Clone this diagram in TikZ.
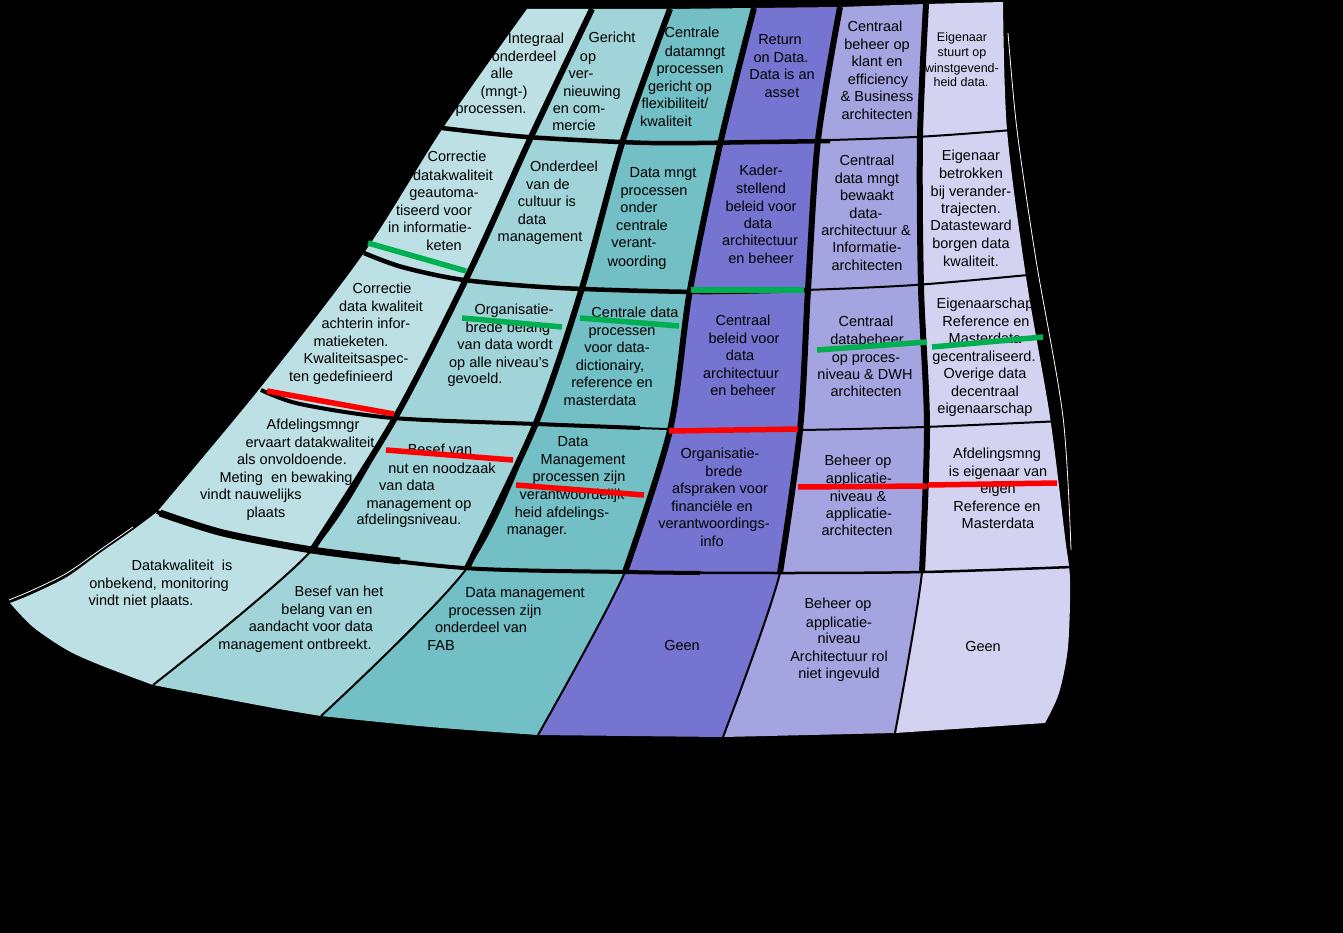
\documentclass[tikz,border=0pt]{standalone}
\usepackage{fontspec}
\setmainfont{Liberation Sans}
\definecolor{cA}{HTML}{BCE0E4}
\definecolor{cB}{HTML}{A0D4D9}
\definecolor{cC}{HTML}{72BFC5}
\definecolor{cD}{HTML}{7575D1}
\definecolor{cE}{HTML}{A4A4E0}
\definecolor{cF}{HTML}{D3D3F1}
\definecolor{hlgreen}{HTML}{00B050}
\definecolor{hlred}{HTML}{FF0000}
\tikzset{
  t/.style={inner sep=0pt, anchor=base, yshift=-5pt, text=black, font=\fontsize{14.5}{17}\selectfont},
  ts/.style={inner sep=0pt, anchor=base, yshift=-4.5pt, text=black, font=\fontsize{12.5}{15}\selectfont},
  divthick/.style={line width=6pt, black},
  divthin/.style={line width=2pt, black},
  rowline/.style={black},
  hlg/.style={line width=5.5pt, hlgreen},
  hlr/.style={line width=5.5pt, hlred}
}
\begin{document}
\begin{tikzpicture}[x=1pt,y=-1pt]
\fill[black] (0,0) rectangle (1343,933);
\useasboundingbox (0,0) rectangle (1343,933);

% column fills
\fill[cA] plot[smooth] coordinates {(527,9) (443,128) (364,253) (261,387) (157,512)}
  -- plot[smooth] coordinates {(157,512) (133,530) (100,553) (67,577) (30,595) (10,603)}
  -- plot[smooth] coordinates {(10,603) (33,627) (67,650) (100,665) (153,685)}
  -- plot[smooth] coordinates {(153,685) (312,550) (395,418) (469,273) (531,137) (592,9)} -- cycle;
\fill[cB] plot[smooth] coordinates {(592,9) (531,137) (469,273) (395,418) (312,550) (153,685)}
  -- plot[smooth] coordinates {(153,685) (268,707) (321,716)}
  -- plot[smooth] coordinates {(321,716) (467,568) (536,423) (582,288) (623,140) (670,9)} -- cycle;
\fill[cC] plot[smooth] coordinates {(670,9) (623,140) (582,288) (536,423) (467,568) (321,716)}
  -- plot[smooth] coordinates {(321,716) (430,727) (538,735)}
  -- plot[smooth] coordinates {(538,735) (625,572) (670,430) (690,290) (721,140) (754,8)} -- cycle;
\fill[cD] plot[smooth] coordinates {(754,8) (721,140) (690,290) (670,430) (625,572) (538,735)}
  -- (723,737)
  -- plot[smooth] coordinates {(723,737) (780,573) (800,430) (808,290) (818,140) (840,7)} -- cycle;
\fill[cE] plot[smooth] coordinates {(840,7) (818,140) (808,290) (800,430) (780,573) (723,737)}
  -- (895,733)
  -- plot[smooth] coordinates {(895,733) (922,572) (927,427) (921,287) (920,137) (926,4)} -- cycle;
\fill[cF] plot[smooth] coordinates {(926,4) (920,137) (921,287) (927,427) (922,572) (895,733)}
  -- (1045,723)
  -- plot[smooth] coordinates {(1045,723) (1059,693) (1068,647) (1070,580) (1065,537) (1050,417) (1026,277) (1007,130) (1003,2)} -- cycle;

% thin light edges outside the frame
\draw[white, line width=0.8pt] plot[smooth] coordinates {(1008,33) (1017,130) (1036,260) (1063,417) (1071,550)};
\draw[white, line width=0.8pt] plot[smooth] coordinates {(9,600) (35,589) (67,573) (100,550) (133,527)};

% row lines (thick on the left, thin on the right)
\draw[rowline, line width=2pt] plot[smooth] coordinates {(442,128) (527,137) (650,143) (760,142) (915,137) (1012,130)};
\draw[rowline, line width=4.5pt] plot[smooth] coordinates {(442,128) (527,137) (650,143) (760,142) (830,141)};
\draw[rowline, line width=2pt] plot[smooth] coordinates {(364,253) (402,267) (464,280) (560,288) (700,292) (805,290) (915,285) (1028,275)};
\draw[rowline, line width=4.5pt] plot[smooth] coordinates {(364,253) (402,267) (464,280) (560,288) (700,292) (805,290)};
\draw[rowline, line width=2pt] plot[smooth] coordinates {(261,390) (300,404) (393,418) (536,424) (700,430) (800,430) (924,427) (1062,421)};
\draw[rowline, line width=4pt] plot[smooth] coordinates {(261,390) (300,404) (393,418) (536,424) (640,428)};
\draw[rowline, line width=2.5pt] plot[smooth] coordinates {(157,512) (223,533) (312,550) (464,568) (625,572) (783,573) (924,572) (1072,567)};
\draw[rowline, line width=4pt] plot[smooth] coordinates {(157,512) (223,533) (312,550) (464,568) (625,572) (700,573)};
\draw[rowline, line width=7pt] plot[smooth] coordinates {(160,513) (223,533) (312,550) (400,561)};

% column dividers
\draw[divthin] plot[smooth] coordinates {(592,9) (531,137) (469,273) (395,418) (312,550) (153,685)};
\draw[divthick] plot[smooth] coordinates {(592,9) (531,137) (469,273) (395,418) (312,550)};
\draw[divthin] plot[smooth] coordinates {(670,9) (623,140) (582,288) (536,423) (467,568) (321,716)};
\draw[divthick] plot[smooth] coordinates {(670,9) (623,140) (582,288) (536,423) (467,568)};
\draw[divthin] plot[smooth] coordinates {(754,8) (721,140) (690,290) (670,430) (625,572) (538,735)};
\draw[divthick] plot[smooth] coordinates {(754,8) (721,140) (690,290) (670,430) (625,572)};
\draw[divthin] plot[smooth] coordinates {(840,7) (818,140) (808,290) (800,430) (780,573) (723,737)};
\draw[divthick] plot[smooth] coordinates {(840,7) (818,140) (808,290) (800,430) (780,573)};
\draw[divthin] plot[smooth] coordinates {(926,4) (920,137) (921,287) (927,427) (922,572) (895,733)};
\draw[divthick] plot[smooth] coordinates {(926,4) (920,137) (921,287) (927,427) (922,572)};

% ---- texts, row 1
\node[t] (n11a) at (536,39) {Integraal};
\node[t] (n11b) at (524,57) {onderdeel};
\node[t] (n11c) at (502,74) {alle};
\node[t] (n11d) at (504,92) {(mngt-)};
\node[t] (n11e) at (491,109) {processen.};

\node[t] (n21a) at (612,38) {Gericht};
\node[t] (n21b) at (588,57) {op};
\node[t] (n21c) at (581,74) {ver-};
\node[t] (n21d) at (592,92) {nieuwing};
\node[t] (n21e) at (579,109) {en com-};
\node[t] (n21f) at (574,126) {mercie};

\node[t] (n31a) at (692,33) {Centrale};
\node[t] (n31b) at (695,52) {datamngt};
\node[t] (n31c) at (690,69) {processen};
\node[t] (n31d) at (680,87) {gericht op};
\node[t] (n31e) at (675,104) {flexibiliteit/};
\node[t] (n31f) at (666,122) {kwaliteit};

\node[t] (n41a) at (780,40) {Return};
\node[t] (n41b) at (781,58) {on Data.};
\node[t] (n41c) at (782,75) {Data is an};
\node[t] (n41d) at (782,93) {asset};

\node[t] (n51a) at (875,27) {Centraal};
\node[t] (n51b) at (877,45) {beheer op};
\node[t] (n51c) at (877,62) {klant en};
\node[t] (n51d) at (878,80) {efficiency};
\node[t] (n51e) at (877,97) {\& Business};
\node[t] (n51f) at (877,115) {architecten};

\node[ts] (n61a) at (962,37) {Eigenaar};
\node[ts] (n61b) at (962,52) {stuurt op};
\node[ts] (n61c) at (962,68) {winstgevend-};
\node[ts] (n61d) at (961,82) {heid data.};

% ---- row 2
\node[t] (n12a) at (457,157) {Correctie};
\node[t] (n12b) at (453,176) {datakwaliteit};
\node[t] (n12c) at (444,193) {geautoma-};
\node[t] (n12d) at (434,211) {tiseerd voor};
\node[t] (n12e) at (430,228) {in informatie-};
\node[t] (n12f) at (444,246) {keten};

\node[t] (n22a) at (564,167) {Onderdeel};
\node[t] (n22b) at (548,185) {van de};
\node[t] (n22c) at (547,202) {cultuur is};
\node[t] (n22d) at (532,220) {data};
\node[t] (n22e) at (540,237) {management};

\node[t] (n32a) at (663,173) {Data mngt};
\node[t] (n32b) at (654,191) {processen};
\node[t] (n32c) at (639,208) {onder};
\node[t] (n32d) at (642,226) {centrale};
\node[t] (n32e) at (634,243) {verant-};
\node[t] (n32f) at (637,261) {woording};

\node[t] (n42a) at (761,171) {Kader-};
\node[t] (n42b) at (761,189) {stellend};
\node[t] (n42c) at (761,207) {beleid voor};
\node[t] (n42d) at (758,224) {data};
\node[t] (n42e) at (760,241) {architectuur};
\node[t] (n42f) at (761,259) {en beheer};

\node[t] (n52a) at (867,161) {Centraal};
\node[t] (n52b) at (867,179) {data mngt};
\node[t] (n52c) at (867,196) {bewaakt};
\node[t] (n52d) at (866,214) {data-};
\node[t] (n52e) at (866,231) {architectuur \&};
\node[t] (n52f) at (867,248) {Informatie-};
\node[t] (n52g) at (867,266) {architecten};

\node[t] (n62a) at (971,156) {Eigenaar};
\node[t] (n62b) at (971,174) {betrokken};
\node[t] (n62c) at (971,192) {bij verander-};
\node[t] (n62d) at (971,209) {trajecten.};
\node[t] (n62e) at (971,226) {Datasteward};
\node[t] (n62f) at (971,244) {borgen data};
\node[t] (n62g) at (971,261) {kwaliteit.};

% ---- row 3
\node[t] (n13a) at (382,288) {Correctie};
\node[t] (n13b) at (381,306) {data kwaliteit};
\node[t] (n13c) at (366,323) {achterin infor-};
\node[t] (n13d) at (351,341) {matieketen.};
\node[t] (n13e) at (356,358) {Kwaliteitsaspec-};
\node[t] (n13f) at (341,376) {ten gedefinieerd};

\node[t] (n23a) at (514,309) {Organisatie-};
\node[t] (n23b) at (508,327) {brede belang};
\node[t] (n23c) at (505,344) {van data wordt};
\node[t] (n23d) at (499,362) {op alle niveau's};
\node[t] (n23e) at (475,378) {gevoeld.};

\node[t] (n33a) at (635,312) {Centrale data};
\node[t] (n33b) at (622,330) {processen};
\node[t] (n33c) at (617,347) {voor data-};
\node[t] (n33d) at (610,365) {dictionairy,};
\node[t] (n33e) at (612,382) {reference en};
\node[t] (n33f) at (600,400) {masterdata};

\node[t] (n43a) at (743,320) {Centraal};
\node[t] (n43b) at (744,338) {beleid voor};
\node[t] (n43c) at (740,355) {data};
\node[t] (n43d) at (741,373) {architectuur};
\node[t] (n43e) at (743,390) {en beheer};

\node[t] (n53a) at (866,321) {Centraal};
\node[t] (n53b) at (867,339) {databeheer};
\node[t] (n53c) at (866,357) {op proces-};
\node[t] (n53d) at (865,374) {niveau \& DWH};
\node[t] (n53e) at (866,391) {architecten};

\node[t] (n63a) at (985,303) {Eigenaarschap};
\node[t] (n63b) at (986,321) {Reference en};
\node[t] (n63c) at (985,338) {Masterdata};
\node[t] (n63d) at (984,356) {gecentraliseerd.};
\node[t] (n63e) at (985,373) {Overige data};
\node[t] (n63f) at (985,391) {decentraal};
\node[t] (n63g) at (985,408) {eigenaarschap};

% ---- row 4
\node[t] (n14a) at (313,424) {Afdelingsmngr};
\node[t] (n14b) at (310,442) {ervaart datakwaliteit};
\node[t] (n14c) at (292,459) {als onvoldoende.};
\node[t] (n14d) at (286,477) {Meting\ \ en bewaking};
\node[t] (n14e) at (251,494) {vindt nauwelijks};
\node[t] (n14f) at (266,512) {plaats};

\node[t] (n24a) at (440,449) {Besef van};
\node[t] (n24b) at (442,468) {nut en noodzaak};
\node[t] (n24c) at (407,485) {van data};
\node[t] (n24d) at (419,503) {management op};
\node[t] (n24e) at (409,519) {afdelingsniveau.};

\node[t] (n34a) at (573,441) {Data};
\node[t] (n34b) at (583,459) {Management};
\node[t] (n34c) at (579,476) {processen zijn};
\node[t] (n34d) at (572,494) {verantwoordelijk};
\node[t] (n34e) at (562,512) {heid afdelings-};
\node[t] (n34f) at (537,529) {manager.};

\node[t] (n44a) at (720,453) {Organisatie-};
\node[t] (n44b) at (724,471) {brede};
\node[t] (n44c) at (720,488) {afspraken voor};
\node[t] (n44d) at (712,506) {financiële en};
\node[t] (n44e) at (714,523) {verantwoordings-};
\node[t] (n44f) at (712,541) {info};

\node[t] (n54a) at (858,460) {Beheer op};
\node[t] (n54b) at (859,478) {applicatie-};
\node[t] (n54c) at (858,496) {niveau \&};
\node[t] (n54d) at (859,513) {applicatie-};
\node[t] (n54e) at (857,530) {architecten};

\node[t] (n64a) at (997,453) {Afdelingsmng};
\node[t] (n64b) at (998,471) {is eigenaar van};
\node[t] (n64c) at (998,488) {eigen};
\node[t] (n64d) at (997,506) {Reference en};
\node[t] (n64e) at (998,523) {Masterdata};

% ---- row 5
\node[t] (n15a) at (182,565) {Datakwaliteit\ \ is};
\node[t] (n15b) at (159,583) {onbekend, monitoring};
\node[t] (n15c) at (141,600) {vindt niet plaats.};

\node[t] (n25a) at (339,591) {Besef van het};
\node[t] (n25b) at (327,609) {belang van en};
\node[t] (n25c) at (311,626) {aandacht voor data};
\node[t] (n25d) at (295,644) {management ontbreekt.};

\node[t] (n35a) at (525,592) {Data management};
\node[t] (n35b) at (495,610) {processen zijn};
\node[t] (n35c) at (481,627) {onderdeel van};
\node[t] (n35d) at (441,645) {FAB};

\node[t] (n45a) at (682,645) {Geen};

\node[t] (n55a) at (838,603) {Beheer op};
\node[t] (n55b) at (839,622) {applicatie-};
\node[t] (n55c) at (839,638) {niveau};
\node[t] (n55d) at (839,656) {Architectuur rol};
\node[t] (n55e) at (839,673) {niet ingevuld};

\node[t] (n65a) at (983,646) {Geen};

% ---- highlight lines (drawn over text)
\draw[hlg] (368,243) -- (466,271);
\draw[hlg] (462,318) -- (562,327);
\draw[hlg] (580,318) -- (679,326);
\draw[hlg] (691,290) -- (804,290);
\draw[hlg] (817,350) -- (927,342);
\draw[hlg] (932,347) -- (1043,337);
\draw[hlr] (267,391) -- (394,414);
\draw[hlr] (386,450) -- (513,460);
\draw[hlr] (516,485) -- (644,495);
\draw[hlr] (669,431) -- (798,429);
\draw[hlr] (798,487) -- (927,486);
\draw[hlr] (928,485) -- (1057,483);
\end{tikzpicture}
\end{document}
